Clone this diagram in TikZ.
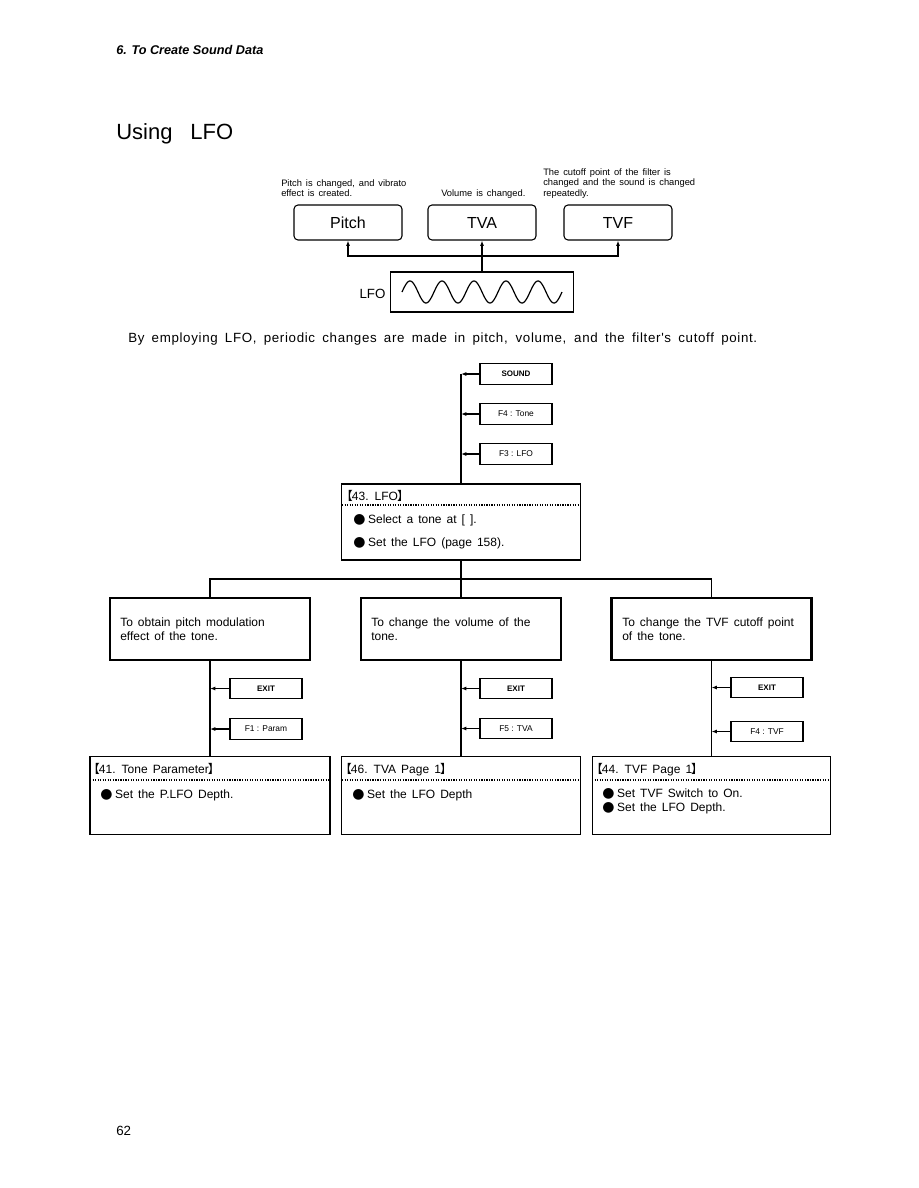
\documentclass[tikz,border=0pt]{standalone}
\usepackage{fontspec}
\setmainfont{Liberation Sans}
\newfontfamily\cjkf{Noto Sans CJK JP}
\newfontfamily\djv{DejaVu Sans}
\newfontfamily\widef{Liberation Sans}[LetterSpace=5]
\usetikzlibrary{arrows.meta}
\newcommand{\myfs}[1]{\fontsize{#1}{#1}\selectfont}
\newcommand{\wspc}{\spaceskip=.42em plus .1em minus .05em\relax}
\newcommand{\bul}{{\djv\myfs{10.5}●}\hspace{2pt}}
\newcommand{\lbr}{{\cjkf\kern-.45em【\kern-.08em}}
\newcommand{\rbr}{{\cjkf\kern-.08em】\kern-.45em}}
\begin{document}
\begin{tikzpicture}[x=0.75pt,y=-0.75pt,
  txt/.style={inner sep=0,anchor=base west},
  wsp/.style={font={\myfs{#1}\wspc}},
  rbox/.style={draw,line width=.8pt,rounded corners=3pt,minimum width=81pt,minimum height=26.25pt,inner sep=0,font=\myfs{12}},
  key/.style={draw,line width=.8pt,minimum width=54pt,minimum height=15.5pt,inner sep=0,font=\myfs{6.3}},
  thickbox/.style={draw,line width=1.8pt,minimum width=150pt,minimum height=46.5pt,inner sep=0},
  scr/.style={draw,line width=.8pt,minimum width=179pt,inner sep=0},
  ln/.style={line width=.9pt},
  arr/.style={ln,-{Latex[length=4pt,width=3pt]}},
  dots/.style={line width=.9pt,dash pattern=on .9pt off 1pt}]
\path[use as bounding box,fill=white] (0,0) rectangle (918,1188);

% header and title
\node[txt,font=\myfs{9.5}\bfseries\itshape] (hdr) at (116,55) {6. To Create Sound Data};
\node[txt,font=\myfs{16.5}] (ttl) at (116,139) {Using\hspace{13.5pt}LFO};

% top diagram
\node[txt,wsp=7] (a1) at (281,186) {Pitch is changed, and vibrato};
\node[txt,wsp=7] (a2) at (281,196) {effect is created.};
\node[txt,wsp=7] (a3) at (441,196) {Volume is changed.};
\node[txt,wsp=7] (a4) at (543,175) {The cutoff point of the filter is};
\node[txt,wsp=7] (a5) at (543,185) {changed and the sound is changed};
\node[txt,wsp=7] (a6) at (543,196) {repeatedly.};

\node[rbox] (pitch) at (348,222.5) {Pitch};
\node[rbox] (tva) at (482,222.5) {TVA};
\node[rbox] (tvf) at (618,222.5) {TVF};
\node[draw,line width=.8pt,minimum width=137.25pt,minimum height=30pt,inner sep=0] (lfo) at (482,292) {};
\node[inner sep=0,font=\myfs{10}] (lfolab) at (372.5,294) {LFO};
\draw[line width=.9pt] plot[domain=0:160,samples=240,smooth] ({\x+402},{292-11*sin(\x*11.25)});
\coordinate (jt) at (482,256);
\draw[arr] (lfo.north) -- (tva.south);
\draw[arr] (jt) -| (pitch.south);
\draw[arr] (jt) -| (tvf.south);

\node[txt,font=\widef\myfs{10}] (sent) at (128,342) {\makebox[471.75pt][s]{By employing LFO, periodic changes are made in pitch, volume, and the filter's cutoff point.}};

% flow: top
\node[key,font=\myfs{6}\bfseries] (sound) at (516,374) {SOUND};
\node[key] (f4tone) at (516,414) {F4 : Tone};
\node[key] (f3lfo) at (516,454) {F3 : LFO};
\node[scr,minimum height=57pt] (box43) at (461,522) {};
\coordinate (s0) at (461,374);
\draw[ln] (s0) -- (box43.north);
\draw[arr] (sound.west) -- (sound.west -| s0);
\draw[arr] (f4tone.west) -- (f4tone.west -| s0);
\draw[arr] (f3lfo.west) -- (f3lfo.west -| s0);
\node[txt,wsp=9] (t43) at (346,500) {\lbr 43. LFO\rbr};
\draw[dots] (342,505) -- (580,505);
\node[txt,wsp=9] (b43a) at (353,523.5) {\bul Select a tone at [ ].};
\node[txt,wsp=9] (b43b) at (353,546.5) {\bul Set the LFO (page 158).};

% three branches
\coordinate (jn) at (461,579);
\node[thickbox] (c1) at (210,629) {};
\node[thickbox] (c2) at (461,629) {};
\node[thickbox] (c3) at (711.5,629) {};
\draw[ln] (box43.south) -- (jn);
\draw[ln] (jn) -| (c1.north);
\draw[ln] (jn) -| (c3.north);
\draw[ln] (jn) -- (c2.north);
\node[txt,wsp=9] (t1a) at (120,626) {To obtain pitch modulation};
\node[txt,wsp=9] (t1b) at (120,640) {effect of the tone.};
\node[txt,wsp=9] (t2a) at (371,626) {To change the volume of the};
\node[txt,wsp=9] (t2b) at (371,640) {tone.};
\node[txt,wsp=9] (t3a) at (622,626) {To change the TVF cutoff point};
\node[txt,wsp=9] (t3b) at (622,640) {of the tone.};

% keys below
\node[key,font=\myfs{6}\bfseries] (exit1) at (266,688.5) {EXIT};
\node[key] (f1) at (266,729) {F1 : Param};
\node[key,font=\myfs{6}\bfseries] (exit2) at (516,688.5) {EXIT};
\node[key] (f5) at (516,728.5) {F5 : TVA};
\node[key,font=\myfs{6}\bfseries] (exit3) at (767,687.5) {EXIT};
\node[key] (f4tvf) at (767,731.5) {F4 : TVF};

% bottom screens
\node[scr,minimum width=180pt,minimum height=58.5pt] (box41) at (210,795.5) {};
\node[scr,minimum height=58.5pt] (box46) at (461,795.5) {};
\node[scr,minimum height=58.5pt] (box44) at (711.5,795.5) {};
\draw[ln] (c1.south) -- (box41.north);
\draw[ln] (c2.south) -- (box46.north);
\draw[ln] (c3.south) -- (box44.north);
\draw[arr] (exit1.west) -- (exit1.west -| c1.south);
\draw[arr] (f1.west) -- (f1.west -| c1.south);
\draw[arr] (exit2.west) -- (exit2.west -| c2.south);
\draw[arr] (f5.west) -- (f5.west -| c2.south);
\draw[arr] (exit3.west) -- (exit3.west -| c3.south);
\draw[arr] (f4tvf.west) -- (f4tvf.west -| c3.south);

\node[txt,wsp=9] (t41) at (93,773.5) {\lbr 41. Tone Parameter\rbr};
\draw[dots] (90,780) -- (330,780);
\node[txt,wsp=9] (b41) at (100,798) {\bul Set the P.LFO Depth.};
\node[txt,wsp=9] (t46) at (345,773.5) {\lbr 46. TVA Page 1\rbr};
\draw[dots] (342,780) -- (580,780);
\node[txt,wsp=9] (b46) at (352,798) {\bul Set the LFO Depth};
\node[txt,wsp=9] (t44) at (596,773.5) {\lbr 44. TVF Page 1\rbr};
\draw[dots] (592,780) -- (831,780);
\node[txt,wsp=9] (b44a) at (602,797.5) {\bul Set TVF Switch to On.};
\node[txt,wsp=9] (b44b) at (602,811.5) {\bul Set the LFO Depth.};

\node[txt,font=\myfs{10}] (pg) at (116,1135) {62};
\end{tikzpicture}
\end{document}
